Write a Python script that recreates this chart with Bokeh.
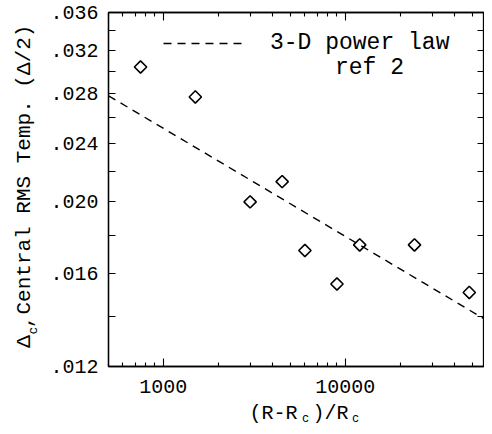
from bokeh.plotting import figure
from bokeh.layouts import row, column
from bokeh.models import (FixedTicker, LogAxis, CustomJSTickFormatter, Label,
                          Legend, LegendItem)
from bokeh.embed import file_html
from bokeh.resources import INLINE

# ---- data ----
sep_x = [750, 1500, 3000, 4500, 6000, 9000, 12000, 24000, 48000]
delta_c = [0.0304, 0.0277, 0.0200, 0.0213, 0.0172, 0.0155, 0.0175, 0.0175, 0.0151]
law_x = [500, 64400]
law_y = [0.0278, 0.0137]
x_major = [1000, 10000]
x_minor = [500, 600, 700, 800, 900,
           2000, 3000, 4000, 5000, 6000, 7000, 8000, 9000,
           20000, 30000, 40000, 50000, 60000]
y_major = [0.012, 0.016, 0.020, 0.024, 0.028, 0.032, 0.036]
y_minor = [0.014, 0.018, 0.022, 0.026, 0.030, 0.034]
x_lim = (500, 58200)
y_lim = (0.012, 0.036)
legend_text = "3-D power law"
legend_ref = "ref 2"

FONT = "Liberation Mono"
INK = "black"

W_YLAB = 44
H_MAIN = 402
H_XLAB = 24
B_MAIN = 36   # bottom border of the main plot (frame bottom at 366)

p = figure(width=484 - W_YLAB, height=H_MAIN, x_axis_type="log", y_axis_type="log",
           x_range=x_lim, y_range=y_lim, output_backend="svg", title=None,
           toolbar_location=None, min_border_left=108 - W_YLAB, min_border_right=0,
           min_border_top=12, min_border_bottom=B_MAIN)
p.xgrid.visible = False
p.ygrid.visible = False
p.outline_line_color = INK
p.outline_line_width = 1.3
p.background_fill_color = "white"
p.border_fill_color = "white"


def style_axis(ax, tick_in_major, tick_in_minor):
    ax.axis_line_color = INK
    ax.axis_line_width = 1.3
    ax.major_tick_in = tick_in_major
    ax.major_tick_out = 0
    ax.minor_tick_in = tick_in_minor
    ax.minor_tick_out = 0
    ax.major_tick_line_color = INK
    ax.minor_tick_line_color = INK
    ax.major_tick_line_width = 1.1
    ax.minor_tick_line_width = 1.1


xax = p.xaxis[0]
xax.ticker = FixedTicker(ticks=x_major, minor_ticks=x_minor)
xax.formatter = CustomJSTickFormatter(code="return tick.toFixed(0)")
xax.major_label_text_font = FONT
xax.major_label_text_font_size = "20px"
xax.major_label_text_color = INK
xax.major_label_standoff = 13
style_axis(xax, 8, 4)

yax = p.yaxis[0]
yax.ticker = FixedTicker(ticks=y_major, minor_ticks=y_minor)
yax.formatter = CustomJSTickFormatter(code="return tick.toFixed(3).replace(/^0/, '')")
yax.major_label_text_font = FONT
yax.major_label_text_font_size = "20px"
yax.major_label_text_color = INK
yax.major_label_standoff = 10
style_axis(yax, 7, 7)

top = LogAxis(ticker=FixedTicker(ticks=x_major, minor_ticks=x_minor),
              formatter=CustomJSTickFormatter(code="return ''"),
              major_label_standoff=0)
style_axis(top, 8, 4)
p.add_layout(top, "above")

right = LogAxis(ticker=FixedTicker(ticks=y_major, minor_ticks=y_minor),
                formatter=CustomJSTickFormatter(code="return ''"),
                major_label_standoff=0)
style_axis(right, 7, 7)
p.add_layout(right, "right")

# ---- data marks ----
r_law = p.line(law_x, law_y, line_dash="8 6", line_width=1.4, line_color=INK)
p.scatter(sep_x, delta_c, marker="square", angle=0.785398, size=8.7,
          fill_color=None, line_color=INK, line_width=1.6)

# ---- legend ----
legend = Legend(items=[LegendItem(label=legend_text, renderers=[r_law])],
                location=(55, 310), padding=0, margin=0, spacing=0,
                glyph_width=82, glyph_height=24, label_height=24,
                label_standoff=25, label_text_font=FONT,
                label_text_font_size="23px", label_text_color=INK,
                border_line_color=None, background_fill_alpha=0)
p.add_layout(legend)
p.add_layout(Label(x=261, y=299, x_units="screen", y_units="screen",
                   text=legend_ref, text_font=FONT, text_font_size="23px",
                   text_color=INK, text_align="center",
                   text_baseline="alphabetic"))


# ---- axis titles (separate text panels, with subscripts) ----
def panel(w, h, bottom=0):
    f = figure(width=w, height=h, x_range=(0, w), y_range=(0, h),
               output_backend="svg", toolbar_location=None, title=None,
               x_axis_location=None, y_axis_location=None, min_border=0,
               min_border_left=0, min_border_right=0, min_border_top=0,
               min_border_bottom=bottom)
    f.xgrid.visible = False
    f.ygrid.visible = False
    f.outline_line_color = None
    f.background_fill_color = "white"
    f.border_fill_color = "white"
    return f


def lab(f, text, x, y, size, angle=0, align="left"):
    f.add_layout(Label(x=x, y=y, x_units="screen", y_units="screen",
                       text=text, text_font=FONT, text_font_size=size,
                       text_color=INK, angle=angle, angle_units="deg",
                       text_align=align, text_baseline="alphabetic"))


# y title: Δc, Central RMS Temp. (Δ/2)   (y measured up from frame bottom at 366)
ylab = panel(W_YLAB, H_MAIN, B_MAIN)
lab(ylab, "Δ", 24, 25, "21px", 90, "center")
lab(ylab, "c", 33, 36, "13px", 90, "center")
lab(ylab, ",", 24, 44.5, "21px", 90, "center")
lab(ylab, "Central RMS Temp. (Δ/2)", 24, 52, "21px", 90, "left")

# x title: (R-Rc)/Rc
xlab = panel(484, H_XLAB)
lab(xlab, "(R-R", 273, 13, "20px", 0, "center")
lab(xlab, "c", 305, 7.6, "12px", 0, "center")
lab(xlab, ")/R", 330, 13, "20px", 0, "center")
lab(xlab, "c", 355, 7.6, "12px", 0, "center")

layout = column(row(ylab, p, spacing=0), xlab, spacing=0)
open("out.html", "w").write(file_html(layout, INLINE))
